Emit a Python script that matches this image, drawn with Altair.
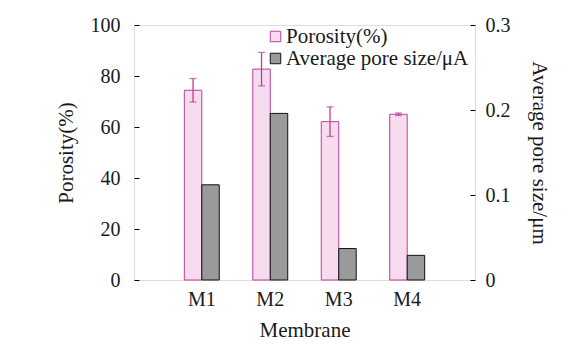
import altair as alt
import pandas as pd

membranes = ["M1", "M2", "M3", "M4"]
porosity = [74.4, 82.7, 62.1, 65.0]
porosity_err = [4.6, 6.6, 5.8, 0.5]
pore_size = [0.112, 0.196, 0.037, 0.029]
series = ["Porosity(%)", "Average pore size/μA"]

FONT = "Liberation Serif"
PINK = "#b8409c"
PINK_FILL = "#f7dcef"
GRAY_FILL = "#9a9a9a"
TXT = "#1a1a1a"

df_p = pd.DataFrame({
    "Membrane": membranes,
    "value": porosity,
    "lo": [v - e for v, e in zip(porosity, porosity_err)],
    "hi": [v + e for v, e in zip(porosity, porosity_err)],
    "series": series[0],
})
df_s = pd.DataFrame({"Membrane": membranes, "value": pore_size, "series": series[1]})

x_scale = alt.Scale(domain=membranes, paddingInner=0, paddingOuter=0.49)
xo_scale = alt.Scale(domain=series, paddingInner=0, paddingOuter=0.96)
x_enc = alt.X("Membrane:N", scale=x_scale,
              axis=alt.Axis(title="Membrane", labelAngle=0, ticks=False, domain=False,
                            labelPadding=9, titlePadding=10, labelFontSize=20,
                            titleFontSize=21, titleFontWeight="normal",
                            labelFont=FONT, titleFont=FONT, labelColor=TXT,
                            titleColor=TXT))
fill_scale = alt.Scale(domain=series, range=[PINK_FILL, GRAY_FILL])
stroke_scale = alt.Scale(domain=series, range=[PINK, "#111111"])
legend = alt.Legend(title=None, orient="none", legendX=131, legendY=1,
                    symbolType="square", symbolSize=110, labelFontSize=21,
                    labelFont=FONT, labelColor=TXT, rowPadding=0,
                    symbolStrokeWidth=1, labelOffset=0, labelLimit=400)

y_left = alt.Y("value:Q", scale=alt.Scale(domain=[0, 100]),
               axis=alt.Axis(title="Porosity(%)", values=[0, 20, 40, 60, 80, 100],
                             grid=False, domain=False, offset=-5, tickSize=5,
                             tickColor="#000", labelPadding=14, titlePadding=14,
                             labelFontSize=20, titleFontSize=21,
                             titleFontWeight="normal", labelFont=FONT, titleFont=FONT,
                             labelColor=TXT, titleColor=TXT))

bars_p = alt.Chart(df_p).mark_bar(strokeWidth=1).encode(
    x=x_enc,
    xOffset=alt.XOffset("series:N", scale=xo_scale),
    y=y_left,
    fill=alt.Fill("series:N", scale=fill_scale, legend=legend),
    stroke=alt.Stroke("series:N", scale=stroke_scale, legend=legend),
)
err = alt.Chart(df_p).mark_errorbar(color=PINK, ticks=alt.MarkConfig(size=7, color=PINK),
                                    thickness=1.3).encode(
    x=alt.X("Membrane:N", scale=x_scale),
    xOffset=alt.XOffset("series:N", scale=xo_scale),
    y=alt.Y("lo:Q", scale=alt.Scale(domain=[0, 100]), title="Porosity(%)"),
    y2="hi:Q",
)
left = alt.layer(bars_p, err)

bars_s = alt.Chart(df_s).mark_bar(strokeWidth=1).encode(
    x=alt.X("Membrane:N", scale=x_scale),
    xOffset=alt.XOffset("series:N", scale=xo_scale),
    y=alt.Y("value:Q", scale=alt.Scale(domain=[0, 0.3]),
            axis=alt.Axis(title="Average pore size/μm", orient="right",
                          values=[0, 0.1, 0.2, 0.3], format=".1~f",
                          grid=False, domain=False, offset=-5, tickSize=5,
                          tickColor="#000", labelPadding=10, titlePadding=18,
                          labelFontSize=20, titleFontSize=21,
                          titleFontWeight="normal", labelFont=FONT, titleFont=FONT,
                          labelColor=TXT, titleColor=TXT)),
    fill=alt.Fill("series:N", scale=fill_scale, legend=legend),
    stroke=alt.Stroke("series:N", scale=stroke_scale, legend=legend),
)

chart = alt.layer(left, bars_s).resolve_scale(y="independent").properties(
    width=341, height=255,
    autosize=alt.AutoSizeParams(type="none"),
    padding={"left": 134, "top": 25, "right": 106, "bottom": 71},
).configure_view(stroke="#000", strokeWidth=1).configure(background="white")

chart.save("out.html", embed_options={"renderer": "svg", "actions": False})
